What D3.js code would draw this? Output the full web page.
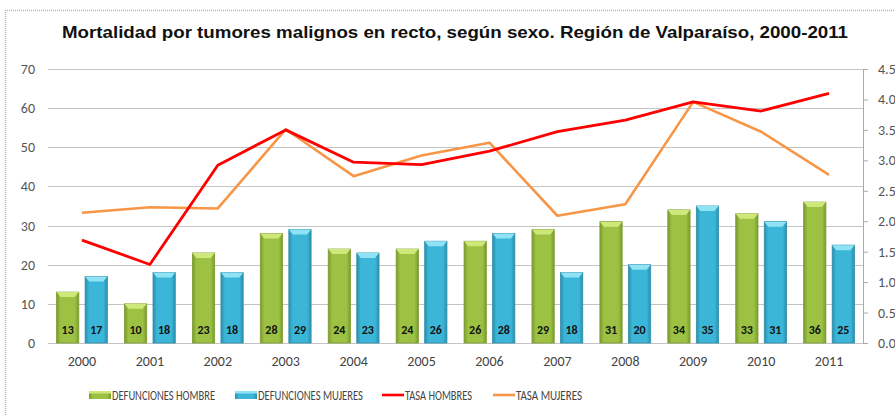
<!DOCTYPE html>
<html>
<head>
<meta charset="utf-8">
<script src="https://d3js.org/d3.v7.min.js"></script>
<style>
  body { margin: 0; background: #fff; }
  svg { display: block; }
</style>
</head>
<body>
<div id="chart"></div>
<script>
const years = ["2000","2001","2002","2003","2004","2005","2006","2007","2008","2009","2010","2011"];
const defHombre = [13,10,23,28,24,24,26,29,31,34,33,36];
const defMujeres = [17,18,18,29,23,26,28,18,20,35,31,25];
const tasaHombres = [1.69,1.29,2.92,3.50,2.97,2.93,3.15,3.47,3.66,3.96,3.81,4.10];
const tasaMujeres = [2.14,2.23,2.21,3.51,2.74,3.08,3.29,2.09,2.28,3.96,3.47,2.76];
const leftTicks = [0,10,20,30,40,50,60,70];
const rightTicks = ["0.0","0.5","1.0","1.5","2.0","2.5","3.0","3.5","4.0","4.5"];

const W = 895, H = 415;
const margin = {left: 48, right: 32, top: 69, bottom: 72};
const plotW = W - margin.left - margin.right;
const plotH = H - margin.top - margin.bottom;

const svg = d3.select("#chart").append("svg").attr("width", W).attr("height", H);

// gradients for the bevelled bars
const defs = svg.append("defs");
function barGrad(id, edge, mid) {
  const g = defs.append("linearGradient").attr("id", id).attr("x1", 0).attr("x2", 1).attr("y1", 0).attr("y2", 0);
  g.append("stop").attr("offset", "0%").attr("stop-color", edge);
  g.append("stop").attr("offset", "18%").attr("stop-color", mid);
  g.append("stop").attr("offset", "82%").attr("stop-color", mid);
  g.append("stop").attr("offset", "100%").attr("stop-color", edge);
}
barGrad("gGreen", "#7a9a2c", "#9dc243");
barGrad("gBlue", "#2a8fae", "#3cb6d8");

// frame
svg.append("path").attr("d", `M5.5,${H} V10.5 H${W}`).attr("fill", "none")
  .attr("stroke", "#b5b5b5").attr("stroke-width", 1.5).attr("stroke-dasharray", "1,1");

svg.append("text").attr("x", 455).attr("y", 38).attr("text-anchor", "middle")
  .attr("font-family", "Liberation Sans, Arial, sans-serif").attr("font-weight", "bold")
  .attr("font-size", 16.5).attr("fill", "#111")
  .attr("textLength", 786).attr("lengthAdjust", "spacingAndGlyphs")
  .text("Mortalidad por tumores malignos en recto, según sexo. Región de Valparaíso, 2000-2011");

const g = svg.append("g").attr("transform", `translate(${margin.left},${margin.top})`);

const x = d3.scaleBand().domain(years).range([0, plotW]).paddingInner(0).paddingOuter(0);
const xi = d3.scaleBand().domain(["h","m"]).range([0, x.bandwidth()]).paddingInner(0.22).paddingOuter(0.3);
const yL = d3.scaleLinear().domain([0, 70]).range([plotH, 0]);
const yR = d3.scaleLinear().domain([0, 4.5]).range([plotH, 0]);

// gridlines
g.append("g").selectAll("line").data(leftTicks).join("line")
  .attr("x1", 0).attr("x2", plotW)
  .attr("y1", d => Math.round(yL(d)) + 0.5).attr("y2", d => Math.round(yL(d)) + 0.5)
  .attr("stroke", "#c4c4c4").attr("stroke-width", 1.2);

// left axis labels
const axisFont = "Carlito, 'Open Sans', 'Noto Sans', sans-serif";
const yAxisL = d3.axisLeft(yL).tickValues(leftTicks).tickSize(0).tickPadding(13);
g.append("g").call(yAxisL).call(s => s.select(".domain").remove())
  .selectAll("text").attr("font-family", axisFont).attr("font-size", 14).attr("fill", "#555");

// right axis
const yAxisR = d3.axisRight(yR).tickValues(rightTicks.map(Number)).tickFormat(d3.format(".1f")).tickSize(5).tickPadding(10);
const ra = g.append("g").attr("transform", `translate(${plotW},0)`).call(yAxisR);
ra.select(".domain").attr("stroke", "#aaa").attr("d", `M0.5,0V${plotH}`);
ra.selectAll("line").attr("stroke", "#aaa");
ra.selectAll("text").attr("font-family", axisFont).attr("font-size", 14).attr("fill", "#555");

// x axis labels
const xAxis = d3.axisBottom(x).tickSize(0).tickPadding(13);
g.append("g").attr("transform", `translate(0,${plotH})`).call(xAxis)
  .call(s => s.select(".domain").remove())
  .selectAll("text").attr("font-family", axisFont).attr("font-size", 14).attr("fill", "#444");

// bars
const groups = g.append("g").selectAll("g").data(years).join("g")
  .attr("transform", d => `translate(${x(d)},0)`);

function drawBars(key, vals, fill, cap, stroke) {
  const bg = groups.append("g");
  bg.append("rect")
    .attr("x", xi(key)).attr("width", xi.bandwidth())
    .attr("y", (d, i) => yL(vals[i])).attr("height", (d, i) => plotH - yL(vals[i]))
    .attr("fill", fill).attr("stroke", stroke).attr("stroke-width", 0.8);
  bg.append("path")
    .attr("d", (d, i) => {
      const x0 = xi(key), w = xi.bandwidth(), y0 = yL(vals[i]);
      return `M${x0},${y0} H${x0 + w} L${x0 + w - 4},${y0 + 5} H${x0 + 4} Z`;
    })
    .attr("fill", cap);
  bg.append("text")
    .attr("x", xi(key) + xi.bandwidth() / 2).attr("y", plotH - 9)
    .attr("text-anchor", "middle").attr("font-family", axisFont)
    .attr("font-size", 12).attr("font-weight", 600).attr("fill", "#111")
    .text((d, i) => vals[i]);
}
drawBars("h", defHombre, "url(#gGreen)", "#cfe87a", "#7d9a34");
drawBars("m", defMujeres, "url(#gBlue)", "#8fe3f5", "#2f8ea9");

// lines
const line = d3.line().x((d, i) => x(years[i]) + x.bandwidth() / 2).y(d => yR(d));
g.append("path").datum(tasaMujeres).attr("d", line).attr("fill", "none")
  .attr("stroke", "#f79646").attr("stroke-width", 2.6).attr("stroke-linejoin", "round");
g.append("path").datum(tasaHombres).attr("d", line).attr("fill", "none")
  .attr("stroke", "#ff0000").attr("stroke-width", 2.8).attr("stroke-linejoin", "round");

// legend
const legendItems = [
  {label: "DEFUNCIONES HOMBRE", type: "bar", fill: "url(#gGreen)", cap: "#cfe87a", x: 89, tl: 103},
  {label: "DEFUNCIONES MUJERES", type: "bar", fill: "url(#gBlue)", cap: "#8fe3f5", x: 235, tl: 105},
  {label: "TASA HOMBRES", type: "line", color: "#ff0000", x: 382, tl: 67},
  {label: "TASA MUJERES", type: "line", color: "#f79646", x: 493, tl: 66}
];
const lg = svg.append("g").attr("transform", "translate(0,395)");
legendItems.forEach(it => {
  if (it.type === "bar") {
    lg.append("rect").attr("x", it.x).attr("y", -4).attr("width", 22).attr("height", 8).attr("fill", it.fill);
    lg.append("rect").attr("x", it.x).attr("y", -4).attr("width", 22).attr("height", 2.5).attr("fill", it.cap);
  } else {
    lg.append("line").attr("x1", it.x).attr("x2", it.x + 22).attr("y1", 0).attr("y2", 0)
      .attr("stroke", it.color).attr("stroke-width", 2.6);
  }
  lg.append("text").attr("x", it.x + 23).attr("y", 5)
    .attr("font-family", axisFont).attr("font-size", 14).attr("fill", "#444")
    .attr("textLength", it.tl).attr("lengthAdjust", "spacingAndGlyphs")
    .text(it.label);
});
</script>
</body>
</html>
